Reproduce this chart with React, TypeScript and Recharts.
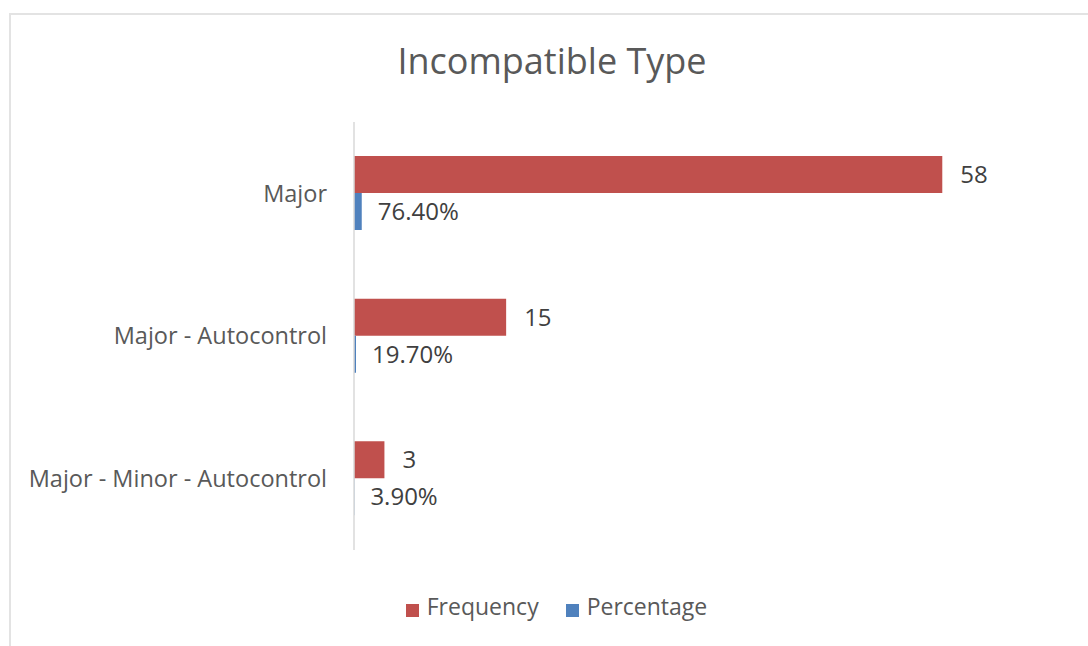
import React from 'react';
import { BarChart, Bar, XAxis, YAxis, Legend, LabelList } from 'recharts';

// Incompatibility counts and their shares
const categories = ['Major', 'Major - Autocontrol', 'Major - Minor - Autocontrol'];
const frequency = [58, 15, 3];
const percentage = [0.764, 0.197, 0.039];

const COLORS = {
  frequency: '#C0504D',
  percentage: '#4F81BD',
  text: '#595959',
  label: '#404040',
  axis: '#D9D9D9',
};

const FONT = '"Open Sans", sans-serif';

const data = categories.map((name, i) => ({
  name,
  Frequency: frequency[i],
  Percentage: percentage[i],
}));

const formatPercent = (v: number) => `${(v * 100).toFixed(2)}%`;

export default function App() {
  return (
    <div
      style={{
        position: 'absolute',
        left: 0,
        top: 0,
        width: 1088,
        height: 646,
        overflow: 'hidden',
        background: '#fff',
        fontFamily: FONT,
      }}
    >
      {/* chart frame */}
      <div
        style={{
          position: 'absolute',
          left: 9,
          top: 13,
          width: 1200,
          height: 800,
          border: '2px solid #E3E3E3',
          boxSizing: 'border-box',
        }}
      />
      <div
        style={{
          position: 'absolute',
          top: 36,
          left: 0,
          width: 1104,
          textAlign: 'center',
          fontSize: 36,
          color: COLORS.text,
          lineHeight: '50px',
        }}
      >
        Incompatible Type
      </div>
      <div style={{ position: 'absolute', left: 0, top: 0 }}>
        <BarChart
          width={1088}
          height={646}
          data={data}
          layout="vertical"
          margin={{ top: 122, right: 24, bottom: 64, left: 0 }}
          barGap={0}
          barSize={37}
        >
          <XAxis type="number" domain={[0, 70]} hide />
          <YAxis
            type="category"
            dataKey="name"
            width={354}
            tickLine={false}
            tickSize={0}
            tickMargin={27}
            axisLine={{ stroke: COLORS.axis, strokeWidth: 1.5 }}
            tick={{ fill: COLORS.text, fontSize: 23.5, fontFamily: FONT }}
          />
          <Legend
            verticalAlign="bottom"
            iconType="square"
            iconSize={13}
            wrapperStyle={{ top: 590, left: 0, width: 1140 }}
            formatter={(value) => (
              <span
                style={{
                  color: COLORS.text,
                  fontSize: 23,
                  fontFamily: FONT,
                  marginLeft: 4,
                  marginRight: 17,
                }}
              >
                {value}
              </span>
            )}
          />
          <Bar dataKey="Frequency" fill={COLORS.frequency} isAnimationActive={false}>
            <LabelList
              dataKey="Frequency"
              position="right"
              offset={18}
              fill={COLORS.label}
              fontSize={24}
              fontFamily={FONT}
            />
          </Bar>
          <Bar dataKey="Percentage" fill={COLORS.percentage} isAnimationActive={false}>
            <LabelList
              dataKey="Percentage"
              position="right"
              offset={16}
              formatter={(v: any) => formatPercent(Number(v))}
              fill={COLORS.label}
              fontSize={24}
              fontFamily={FONT}
            />
          </Bar>
        </BarChart>
      </div>
    </div>
  );
}
